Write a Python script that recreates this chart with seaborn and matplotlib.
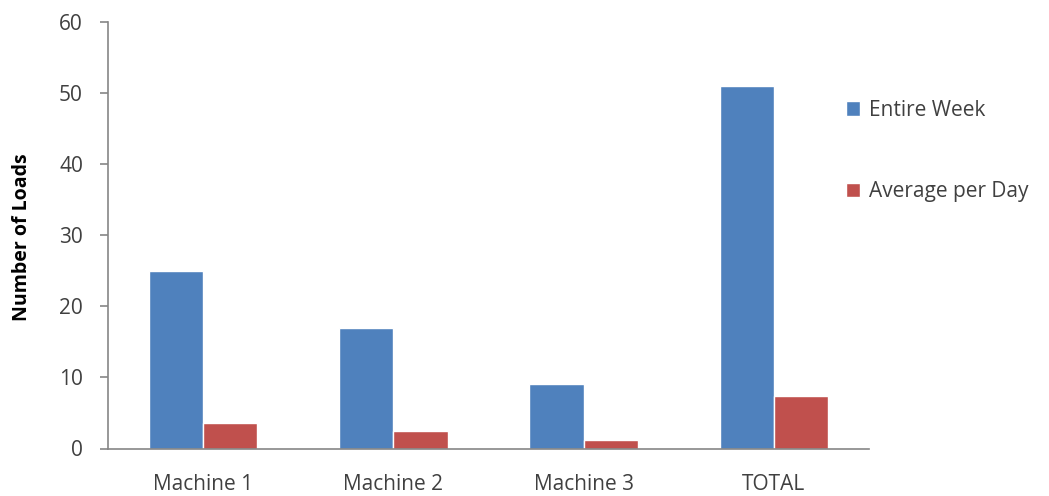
import matplotlib
matplotlib.use("Agg")
import matplotlib.pyplot as plt
from matplotlib.ticker import FixedLocator
import seaborn as sns
import pandas as pd

# Weekly machine loads
categories = ["Machine 1", "Machine 2", "Machine 3", "TOTAL"]
entire_week = [25, 17, 9, 51]
average_per_day = [3.6, 2.4, 1.2, 7.4]
series_names = ["Entire Week", "Average per Day"]
y_ticks = [0, 10, 20, 30, 40, 50, 60]

df = pd.DataFrame({
    "Machine": categories * 2,
    "Loads": entire_week + average_per_day,
    "Series": [series_names[0]] * len(categories) + [series_names[1]] * len(categories),
})

sns.set_theme(style="white")
plt.rcParams["font.family"] = ["Open Sans", "DejaVu Sans"]

text_color = "#404040"
axis_color = "#868686"
palette = {"Entire Week": "#4F81BD", "Average per Day": "#C0504D"}

fig = plt.figure(figsize=(10.49, 4.96), dpi=100)
ax = fig.add_axes([108 / 1049, 1 - 448.5 / 496, (869 - 108) / 1049, (448.5 - 21.7) / 496])

sns.barplot(data=df, x="Machine", y="Loads", hue="Series", palette=palette,
            order=categories, hue_order=series_names, width=0.57, gap=0,
            saturation=1, ax=ax, legend=True)

ax.set_xlim(-0.5, len(categories) - 0.5)
ax.set_ylim(0, 60)
ax.set_yticks(y_ticks)
ax.set_xlabel("")
ax.set_ylabel("Number of Loads", fontsize=14, fontweight="bold", color="black",
              labelpad=0)
ax.yaxis.set_label_coords(22 / 1049, 1 - 237 / 496, transform=fig.transFigure)
ax.yaxis.label.set_verticalalignment("center")

# Category separators drawn as minor ticks between the groups
ax.xaxis.set_minor_locator(FixedLocator([i - 0.5 for i in range(len(categories) + 1)]))
ax.tick_params(axis="x", which="major", length=0, pad=18, labelsize=15, labelcolor=text_color)
ax.tick_params(axis="x", which="minor", length=6, width=1.2, color=axis_color, direction="out")
ax.tick_params(axis="y", which="major", length=6, width=1.2, color=axis_color, direction="out",
               left=True, pad=12, labelsize=15, labelcolor=text_color)

for side in ["top", "right"]:
    ax.spines[side].set_visible(False)
for side in ["left", "bottom"]:
    ax.spines[side].set_color(axis_color)
    ax.spines[side].set_linewidth(1.2)

handles, labels = ax.get_legend_handles_labels()
ax.legend(handles, labels, loc="upper left", bbox_to_anchor=(827 / 1049, 1 - 81 / 496),
          bbox_transform=fig.transFigure, frameon=False, fontsize=15,
          labelcolor=text_color, handlelength=0.7, handleheight=0.7,
          handletextpad=0.4, labelspacing=2.9)

fig.savefig("out.png", dpi=100, facecolor="white")
